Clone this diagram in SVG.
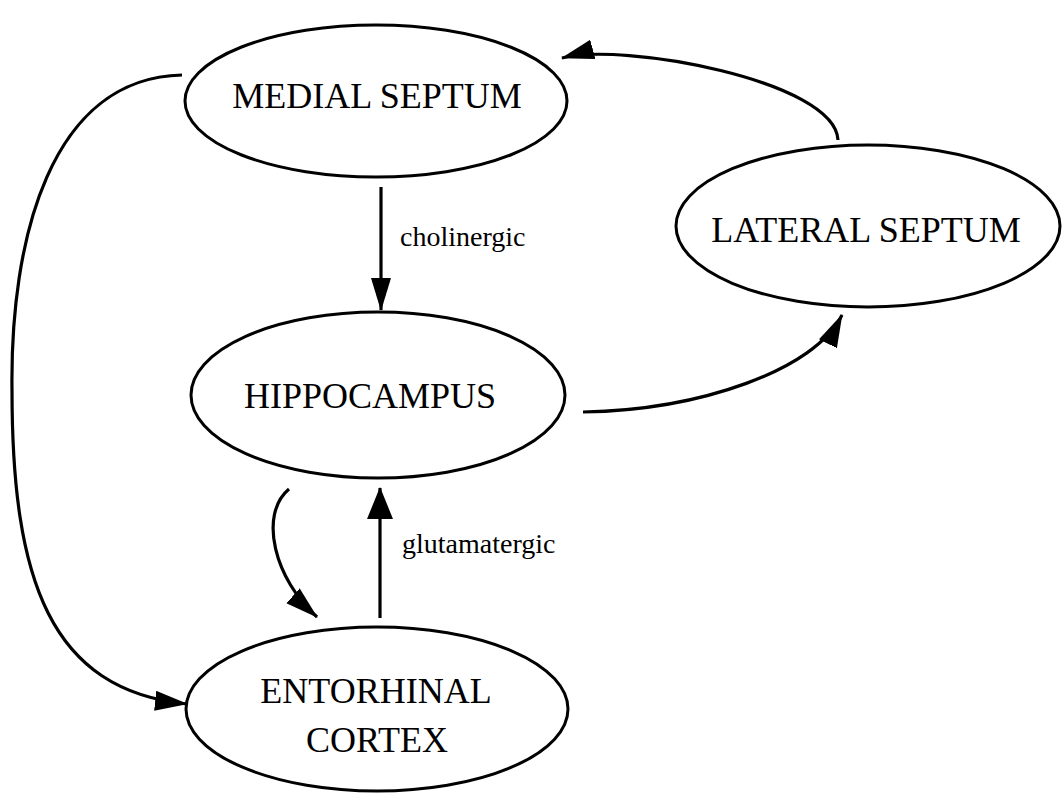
<svg xmlns="http://www.w3.org/2000/svg" width="1062" height="793" viewBox="0 0 1062 793">
<style>
.node{fill:#fff;stroke:#000;stroke-width:3}
.lbl{font-family:"Liberation Serif","Times New Roman",serif;font-size:36px;fill:#000;text-anchor:middle}
.elbl{font-family:"Liberation Serif","Times New Roman",serif;font-size:28px;fill:#000}
.edge{fill:none;stroke:#000;stroke-width:3.2}
</style>
<defs>
<marker id="ah" markerUnits="userSpaceOnUse" markerWidth="36" markerHeight="22" refX="32" refY="10" orient="auto"><path d="M0,0 L33,10 L0,20 z" fill="#000"/></marker>
<marker id="ahb" markerUnits="userSpaceOnUse" markerWidth="34" markerHeight="28" refX="31" refY="13" orient="auto"><path d="M0,0 L32,13 L0,26 z" fill="#000"/></marker>
</defs>
<rect width="1062" height="793" fill="#fff"/>
<g id="connectors">
<path class="edge" d="M381,187 L381,310" marker-end="url(#ah)"/>
<path class="edge" d="M380,618 L380,488" marker-end="url(#ahb)"/>
<path class="edge" d="M289,489 C258,515 275,580 317,617" marker-end="url(#ah)"/>
<path class="edge" d="M182,75 C50,78 10,240 12,390 C12,580 50,690 187,704" marker-end="url(#ah)"/>
<path class="edge" d="M583,412 C700,410 815,370 842,315" marker-end="url(#ah)"/>
<path class="edge" d="M838,140 C835,80 620,42 562,58" marker-end="url(#ah)"/>
<text class="elbl" x="400" y="246">cholinergic</text>
<text class="elbl" x="402" y="553">glutamatergic</text>
</g>
<g id="medial-septum">
<ellipse class="node" cx="376" cy="101" rx="191" ry="76"/>
<text class="lbl" x="377" y="108">MEDIAL SEPTUM</text>
</g>
<g id="lateral-septum">
<ellipse class="node" cx="868" cy="226" rx="192" ry="81"/>
<text class="lbl" x="866" y="242">LATERAL SEPTUM</text>
</g>
<g id="hippocampus">
<ellipse class="node" cx="378" cy="395" rx="187" ry="83"/>
<text class="lbl" x="370" y="408">HIPPOCAMPUS</text>
</g>
<g id="entorhinal-cortex">
<ellipse class="node" cx="377" cy="709" rx="191" ry="82"/>
<text class="lbl" x="376" y="703">ENTORHINAL</text>
<text class="lbl" x="377" y="752">CORTEX</text>
</g>
</svg>
